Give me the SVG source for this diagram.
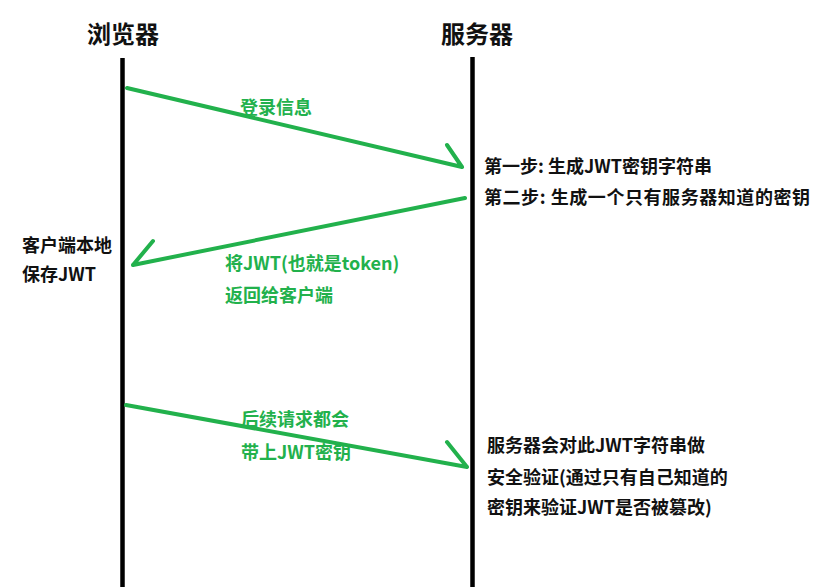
<svg xmlns="http://www.w3.org/2000/svg" width="825" height="587" viewBox="0 0 825 587">
<style>
text{font-family:"Noto Sans CJK SC","Noto Sans",sans-serif;font-weight:bold;font-size:18px;fill:#111}
.title{font-size:24px}
.g{fill:#22b14c}
.life{stroke:#000;stroke-width:4.5}
.msg{stroke:#22b14c;stroke-width:4;fill:none;stroke-linecap:round;stroke-linejoin:round}
</style>
<rect width="825" height="587" fill="#fff"/>
<g id="browser">
<text class="title" x="87" y="43">浏览器</text>
<line class="life" x1="122.5" y1="58" x2="122.5" y2="587"/>
</g>
<g id="server">
<text class="title" x="441" y="43">服务器</text>
<line class="life" x1="472.5" y1="57" x2="472.5" y2="587"/>
</g>
<g id="client-note">
<text x="22" y="252">客户端本地</text>
<text x="22" y="281">保存JWT</text>
</g>
<g id="server-note-1">
<text x="484" y="173">第一步: 生成JWT密钥字符串</text>
<text x="484" y="204" textLength="326" lengthAdjust="spacing">第二步: 生成一个只有服务器知道的密钥</text>
</g>
<g id="server-note-2">
<text x="487" y="452">服务器会对此JWT字符串做</text>
<text x="487" y="484">安全验证(通过只有自己知道的</text>
<text x="487" y="514">密钥来验证JWT是否被篡改)</text>
</g>
<g id="connectors">
<path class="msg" d="M127,88 L462,167 M447,145 L462,167"/>
<path class="msg" d="M465,198 L133,265 M153,241 L133,265"/>
<path class="msg" d="M126,405 L467,467 M447,442 L467,467"/>
<text class="g" x="240" y="114">登录信息</text>
<text class="g" x="225" y="270">将JWT(也就是token)</text>
<text class="g" x="225" y="302">返回给客户端</text>
<text class="g" x="241" y="426">后续请求都会</text>
<text class="g" x="241" y="459">带上JWT密钥</text>
</g>
</svg>
